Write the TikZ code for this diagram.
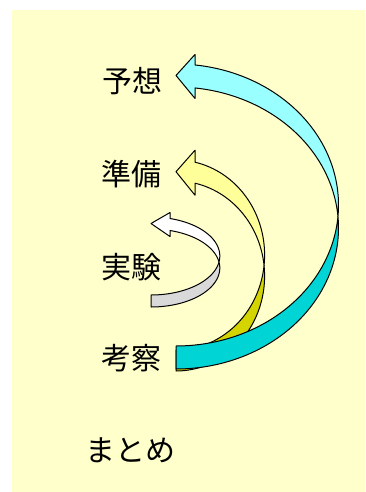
\documentclass[tikz,border=0pt]{standalone}
\usepackage{fontspec}
\setmainfont{Noto Sans CJK JP}
\definecolor{bgyellow}{HTML}{FFFFCC}
\definecolor{cyanlight}{HTML}{99FFFF}
\definecolor{cyandark}{HTML}{00D4D4}
\definecolor{yellowlight}{HTML}{FFFF99}
\definecolor{yellowdark}{HTML}{D4D400}
\definecolor{greydark}{HTML}{D9D9D9}
% #1 x0, #2 cU, #3 th, #4 ry, #5 rx, #6 head length, #7 barb extension, #8 light, #9 dark
\newcommand{\curvedarr}[9]{%
  \pgfmathsetmacro\arrTi{asin(#3/(2*#4))}%
  \pgfmathsetmacro\arrTh{-acos(#6/#5)}%
  \pgfmathsetmacro\arrYU{#2+#4*sin(\arrTh)}%
  \pgfmathsetmacro\arrYL{#2+#3+#4*sin(\arrTh)}%
  \pgfmathsetmacro\arrTip{(\arrYU+\arrYL)/2-1}%
  \filldraw[arrline,fill=#9]
    plot[domain=90:\arrTi,samples=60] ({#1+#5*cos(\x)},{#2+#4*sin(\x)})
    -- plot[domain=-\arrTi:90,samples=60] ({#1+#5*cos(\x)},{#2+#3+#4*sin(\x)})
    -- cycle;
  \filldraw[arrline,fill=#8]
    plot[domain=\arrTh:\arrTi,samples=80] ({#1+#5*cos(\x)},{#2+#4*sin(\x)})
    -- plot[domain=-\arrTi:\arrTh,samples=80] ({#1+#5*cos(\x)},{#2+#3+#4*sin(\x)})
    -- ({#1+#6},{\arrYL+#7}) -- ({#1},{\arrTip}) -- ({#1+#6},{\arrYU-#7}) -- cycle;
}
\begin{document}
\begin{tikzpicture}[x=1pt,y=-1pt,
  arrline/.style={draw=black,line width=1pt,line join=round},
  label/.style={font=\fontsize{30}{30}\selectfont,anchor=base,inner sep=0pt}]
\useasboundingbox (0,0) rectangle (365,492);
\fill[bgyellow] (12,10) rectangle (365,492);
% arrows
\curvedarr{151}{256}{12}{39}{68.8}{19}{6}{white}{greydark}
\curvedarr{176}{255}{21}{95}{88.6}{19}{12}{yellowlight}{yellowdark}
\curvedarr{176}{205}{23}{141}{162.5}{19}{10.5}{cyanlight}{cyandark}
% labels
\node[label] (yoso) at (132,92.5) {予想};
\node[label] (junbi) at (131,185) {準備};
\node[label] (jikken) at (131,278.5) {実験};
\node[label] (kosatsu) at (131,369.5) {考察};
\node[label] (matome) at (130,461) {まとめ};
\end{tikzpicture}
\end{document}
